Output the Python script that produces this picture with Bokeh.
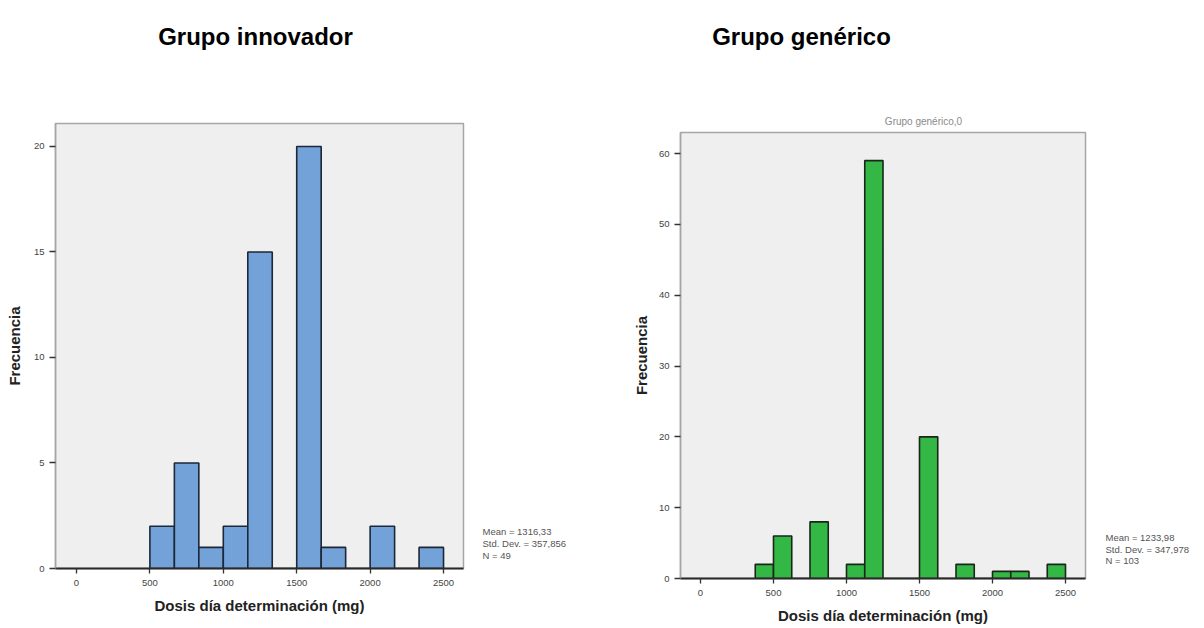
from bokeh.plotting import figure
from bokeh.layouts import row, column
from bokeh.models import Range1d, FixedTicker, Label
from bokeh.embed import file_html
from bokeh.resources import INLINE

# ---------------- data ----------------
titles = ["Grupo innovador", "Grupo genérico"]
x_label = "Dosis día determinación (mg)"
y_label = "Frecuencia"
x_ticks = [0, 500, 1000, 1500, 2000, 2500]

innov_edges = [500, 666.7, 833.3, 1000, 1166.7, 1333.3, 1500, 1666.7, 1833.3,
               2000, 2166.7, 2333.3, 2500]
innov_counts = [2, 5, 1, 2, 15, 0, 20, 1, 0, 2, 0, 1]
innov_y_ticks = [0, 5, 10, 15, 20]
innov_stats = ["Mean = 1316,33", "Std. Dev. = 357,856", "N = 49"]

gen_edges = [375, 500, 625, 750, 875, 1000, 1125, 1250, 1375, 1500, 1625,
             1750, 1875, 2000, 2125, 2250, 2375, 2500]
gen_counts = [2, 6, 0, 8, 0, 2, 59, 0, 0, 20, 0, 2, 0, 1, 1, 0, 2]
gen_y_ticks = [0, 10, 20, 30, 40, 50, 60]
gen_stats = ["Mean = 1233,98", "Std. Dev. = 347,978", "N = 103"]
gen_subtitle = "Grupo genérico,0"

FONT = "Liberation Sans"
TOP_B, BOT_B = 2, 50          # shared top / bottom borders of the chart rows


def blank(width, height, x0, x1, y0, y1, left=0, right=0, top=0, bottom=0):
    """Figure without axes whose data coordinates equal page pixels."""
    p = figure(width=width, height=height, output_backend="svg",
               toolbar_location=None, x_axis_location=None,
               y_axis_location=None,
               x_range=Range1d(x0, x1), y_range=Range1d(y1, y0),
               min_border_left=left, min_border_right=right,
               min_border_top=top, min_border_bottom=bottom)
    p.outline_line_color = None
    p.background_fill_color = "white"
    p.border_fill_color = "white"
    for g in p.grid:
        g.visible = False
    return p


def chart(edges, counts, yticks, yend, xr, color, line_color, width, height,
          left, right, ylab_standoff):
    p = figure(width=width, height=height, output_backend="svg",
               toolbar_location=None,
               x_range=Range1d(*xr), y_range=Range1d(0, yend),
               min_border_left=left, min_border_right=right,
               min_border_top=TOP_B, min_border_bottom=BOT_B)
    p.background_fill_color = "#efefef"
    p.border_fill_color = "white"
    p.outline_line_color = "#a6a6a6"
    p.outline_line_width = 1.5
    p.xgrid.visible = False
    p.ygrid.visible = False

    p.quad(left=edges[:-1], right=edges[1:], top=counts, bottom=0,
           fill_color=color, line_color=line_color, line_width=1.6)

    p.xaxis.ticker = FixedTicker(ticks=x_ticks)
    p.yaxis.ticker = FixedTicker(ticks=yticks)
    for ax in (p.xaxis[0], p.yaxis[0]):
        ax.major_label_text_font = FONT
        ax.major_label_text_font_size = "9.5px"
        ax.major_label_text_color = "#444444"
        ax.major_tick_line_color = "#333333"
        ax.major_tick_line_width = 1.3
        ax.major_tick_in = 0
        ax.minor_tick_line_color = None
        ax.axis_label_text_font = FONT
        ax.axis_label_text_font_style = "bold"
        ax.axis_label_text_font_size = "15px"
        ax.axis_label_text_color = "#222222"
    p.xaxis.major_tick_out = 5
    p.xaxis.axis_line_color = "#2a2a2a"
    p.xaxis.axis_line_width = 2
    p.xaxis.major_label_standoff = 6
    p.xaxis.axis_label_standoff = 8
    p.xaxis.axis_label = x_label
    p.yaxis.major_tick_out = 6
    p.yaxis.axis_line_color = "#a6a6a6"
    p.yaxis.axis_line_width = 1.5
    p.yaxis.major_label_standoff = 5
    p.yaxis.axis_label_standoff = ylab_standoff
    p.yaxis.axis_label = y_label
    return p


def title_label(text, x, y):
    return Label(x=x, y=y, text=text, text_align="center",
                 text_baseline="alphabetic", text_font=FONT,
                 text_font_style="bold", text_font_size="24px",
                 text_color="black")


def add_stats(p, lines, x, y0, step):
    for i, s in enumerate(lines):
        p.add_layout(Label(x=x, y=y0 + i * step, text=s, text_align="left",
                           text_baseline="middle", text_font=FONT,
                           text_font_size="9.5px", text_color="#555555"))


# ---------------- left panel (page x 0..602) ----------------
t1 = blank(602, 121, 55, 602, 0, 121, left=55)
t1.add_layout(title_label(titles[0], 255, 36))

m1 = chart(innov_edges, innov_counts, innov_y_ticks, 21.09, (-143, 2636),
           "#72a2d8", "#1c2738", 470, 497, 55, 7, 8)
s1 = blank(132, 497, 470, 602, 121 + TOP_B, 618 - BOT_B,
           top=TOP_B, bottom=BOT_B)
add_stats(s1, innov_stats, 482, 531, 12)

left_col = column(t1, row(m1, s1, spacing=0), spacing=0)

# ---------------- right panel (page x 602..1204) ----------------
t2 = blank(602, 130, 680, 1204, 0, 130, left=78)
t2.add_layout(title_label(titles[1], 801, 36))
# faint sub-title just above the frame
t2.add_layout(Label(x=923, y=121, text=gen_subtitle, text_align="center",
                    text_baseline="middle", text_font=FONT,
                    text_font_size="10px", text_color="#8a8a8a"))

m2 = chart(gen_edges, gen_counts, gen_y_ticks, 62.97, (-137, 2637),
           "#33b846", "#1a261a", 490, 498, 78, 7, 6)
s2 = blank(112, 498, 1092, 1204, 130 + TOP_B, 628 - BOT_B,
           top=TOP_B, bottom=BOT_B)
add_stats(s2, gen_stats, 1105, 537, 11.5)

right_col = column(t2, row(m2, s2, spacing=0), spacing=0)

layout = row(left_col, right_col, spacing=0)
open("out.html", "w").write(file_html(layout, INLINE))
